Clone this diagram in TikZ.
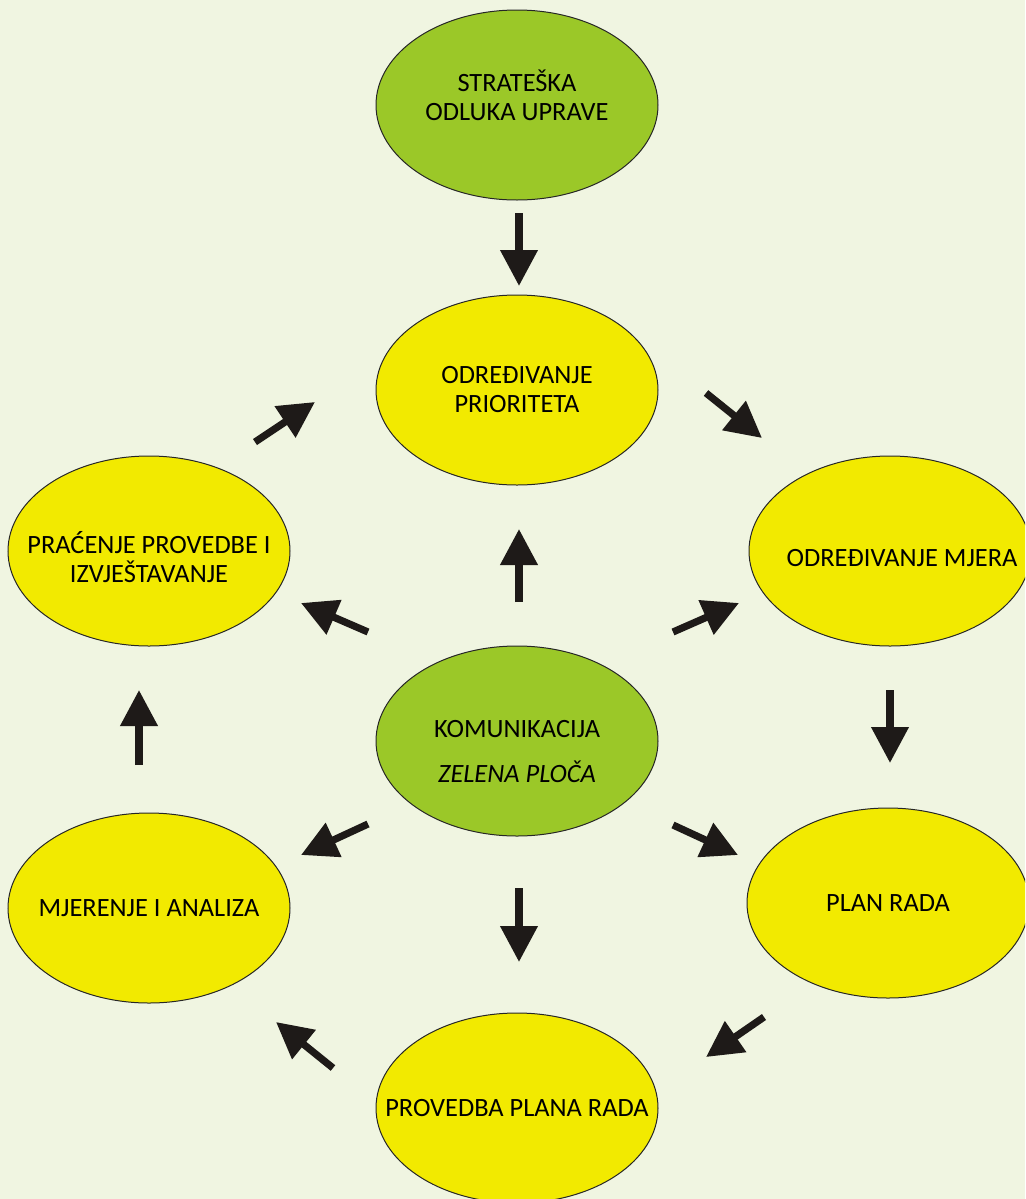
\documentclass[tikz,border=0pt]{standalone}
\usepackage{fontspec}
\setmainfont{Carlito}
\usetikzlibrary{arrows.meta,shapes.geometric}
\definecolor{bg}{RGB}{240,245,225}
\definecolor{leaf}{RGB}{155,200,40}
\definecolor{lemon}{RGB}{242,234,0}
\definecolor{ink}{RGB}{30,26,24}
\newcommand{\ctr}[1]{\makebox[0pt]{#1}}
\tikzset{
  blob/.style={ellipse, draw=black!85, line width=0.5pt, minimum width=141pt,
    minimum height=95pt, inner sep=0pt, align=center,
    font=\fontsize{13.2}{14.5}\selectfont},
  arr/.style={ink, line width=3.6pt, -{Triangle[length=18pt,width=18pt]}}
}
\begin{document}
\begin{tikzpicture}[x=0.5pt,y=-0.5pt]
      \useasboundingbox (0,0) rectangle (1025,1199);
      \clip (0,0) rectangle (1025,1199);
      \fill[bg] (0,0) rectangle (1025,1199);
      \node[blob, fill=leaf] (strat) at (517,105) {\ctr{STRATEŠKA}\\\ctr{ODLUKA UPRAVE}\rule[-10pt]{0pt}{10pt}};
      \node[blob, fill=lemon] (prior) at (517,390) {\ctr{ODREĐIVANJE}\\\ctr{PRIORITETA}};
      \node[blob, fill=lemon] (mjera) at (890,551) {\rule{0pt}{16pt}\ctr{\hspace*{12pt}ODREĐIVANJE MJERA}};
      \node[blob, fill=lemon] (pracenje) at (149,551) {\rule{0pt}{17pt}\ctr{PRAĆENJE PROVEDBE I}\\\ctr{IZVJEŠTAVANJE}};
      \node[blob, fill=leaf] (komun) at (517,741) {\rule{0pt}{19pt}\ctr{KOMUNIKACIJA}\\[8pt]\ctr{\textit{ZELENA PLOČA}}};
      \node[blob, fill=lemon] (plan) at (888,903) {\ctr{PLAN RADA}};
      \node[blob, fill=lemon] (mjerenje) at (149,908) {\ctr{MJERENJE I ANALIZA}};
      \node[blob, fill=lemon] (provedba) at (517,1108) {\ctr{PROVEDBA PLANA RADA}};
      % arrow ends
      \coordinate (s1) at (519,213);  \coordinate (e1) at (519,286);
      \coordinate (s2) at (706,393);  \coordinate (e2) at (762,438);
      \coordinate (s3) at (890,690);  \coordinate (e3) at (890,763);
      \coordinate (s4) at (764,1017); \coordinate (e4) at (706,1057);
      \coordinate (s5) at (333,1068); \coordinate (e5) at (276,1022);
      \coordinate (s6) at (139,765);  \coordinate (e6) at (139,690);
      \coordinate (s7) at (255,442);  \coordinate (e7) at (315,402);
      \coordinate (s8) at (519,602);  \coordinate (e8) at (519,529);
      \coordinate (s9) at (673,632);  \coordinate (e9) at (739,603);
      \coordinate (s10) at (368,632); \coordinate (e10) at (301,603);
      \coordinate (s11) at (673,825); \coordinate (e11) at (738,855);
      \coordinate (s12) at (368,824); \coordinate (e12) at (301,855);
      \coordinate (s13) at (519,888); \coordinate (e13) at (519,962);
      \begin{scope}[arr]
        \foreach \i in {1,...,13}
          \draw (s\i) to (e\i);
      \end{scope}
    \end{tikzpicture}
\end{document}
